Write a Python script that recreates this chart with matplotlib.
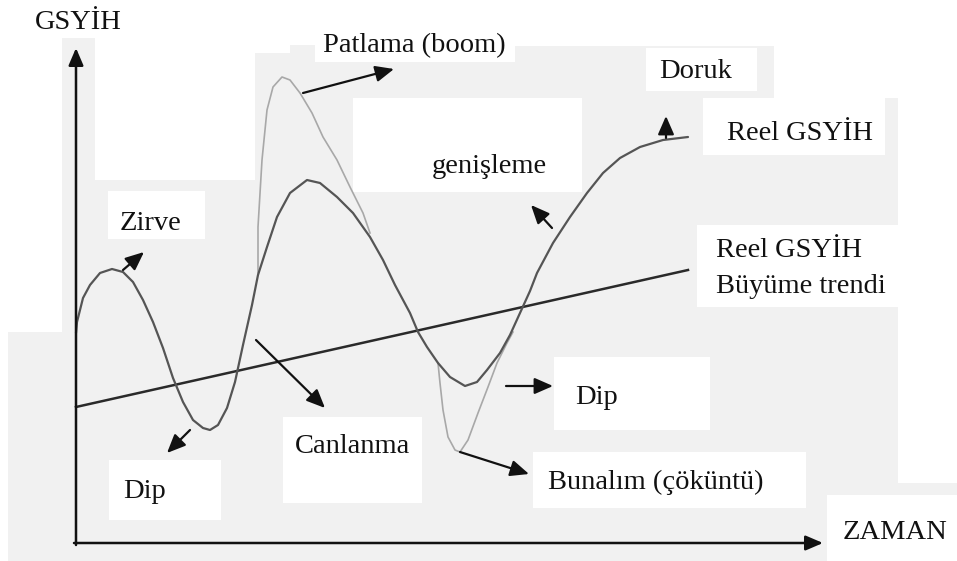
import matplotlib
matplotlib.use("Agg")
import matplotlib.pyplot as plt
from matplotlib.patches import Rectangle

reel_x = [76, 77, 83, 90, 100, 112, 123, 133, 143, 153, 163, 173, 183, 193,
          203, 210, 218, 227, 235, 243, 252, 258, 267, 277, 290, 307, 320, 337,
          353, 370, 383, 395, 410, 418, 427, 438, 450, 465, 477, 487, 500, 510,
          520, 530, 537, 553, 570, 587, 603, 620, 640, 663, 688]
reel_y = [333, 322, 298, 285, 273, 269, 272, 282, 300, 322, 348, 378, 402, 420,
          428, 430, 425, 408, 382, 345, 305, 275, 247, 217, 193, 180, 183, 197,
          213, 237, 260, 285, 313, 332, 347, 363, 377, 386, 382, 370, 353, 335,
          313, 291, 273, 243, 217, 193, 173, 158, 147, 140, 137]

# boom branch (light curve)
boom_x = [258, 258, 262, 267, 273, 282, 290, 300, 312, 323, 337, 350, 363, 370]
boom_y = [273, 227, 160, 110, 87, 77, 80, 93, 113, 137, 160, 187, 213, 233]

# bust branch (light curve)
bust_x = [438, 440, 443, 448, 455, 460, 468, 478, 488, 497, 507, 513]
bust_y = [363, 383, 410, 437, 450, 452, 440, 413, 387, 363, 343, 332]

# trend line end points
trend_x = [76, 688]
trend_y = [407, 270]

# background layout
gray_rects = [(62, 38, 95, 180), (62, 180, 898, 561), (8, 332, 62, 561),
              (255, 53, 774, 180), (290, 45, 315, 53), (515, 46, 774, 53),
              (774, 98, 898, 180), (898, 483, 957, 497)]
white_rects = [(315, 0, 515, 62), (646, 48, 757, 91), (353, 98, 582, 192),
               (703, 98, 885, 155), (108, 191, 205, 239), (697, 225, 957, 307),
               (109, 460, 221, 520), (283, 417, 422, 503), (554, 357, 710, 430),
               (533, 452, 806, 508), (827, 495, 957, 561)]

labels = [("GSYİH", 35, 29), ("Patlama (boom)", 323, 52), ("Doruk", 659, 78),
          ("Reel GSYİH", 727, 140), ("genişleme", 432, 173), ("Zirve", 120, 230),
          ("Reel GSYİH", 716, 257), ("Büyüme trendi", 716, 293),
          ("Dip", 123, 498), ("Canlanma", 295, 453), ("Dip", 575, 404),
          ("Bunalım (çöküntü)", 548, 489), ("ZAMAN", 843, 539)]

# (from, to) for the little pointer arrows
arrows = [((123, 270), (144, 252)), ((303, 93), (394, 69)),
          ((666, 138), (666, 116)), ((552, 228), (531, 205)),
          ((190, 430), (167, 453)), ((256, 340), (325, 408)),
          ((506, 386), (553, 386)), ((460, 452), (529, 474))]

fig = plt.figure(figsize=(9.57, 5.61), dpi=100)
ax = fig.add_axes([0, 0, 1, 1])
ax.set_xlim(0, 957)
ax.set_ylim(561, 0)
ax.axis("off")

for x0, y0, x1, y1 in gray_rects:
    ax.add_patch(Rectangle((x0, y0), x1 - x0, y1 - y0, fc="#f1f1f1", ec="none", zorder=0))
for x0, y0, x1, y1 in white_rects:
    ax.add_patch(Rectangle((x0, y0), x1 - x0, y1 - y0, fc="white", ec="none", zorder=1))

# axes with arrow heads
ax.annotate("", xy=(76, 48), xytext=(76, 545),
            arrowprops=dict(arrowstyle="-|>,head_length=0.7,head_width=0.3",
                            color="#111111", lw=1.8, shrinkA=0, shrinkB=0, mutation_scale=15),
            zorder=4)
ax.annotate("", xy=(823, 543), xytext=(74, 543),
            arrowprops=dict(arrowstyle="-|>,head_length=0.7,head_width=0.3",
                            color="#111111", lw=1.8, shrinkA=0, shrinkB=0, mutation_scale=15),
            zorder=4)

ax.plot(trend_x, trend_y, color="#2a2a2a", lw=1.8, zorder=3)
ax.plot(boom_x, boom_y, color="#a8a8a8", lw=1.2, zorder=2, solid_joinstyle="round")
ax.plot(bust_x, bust_y, color="#a8a8a8", lw=1.2, zorder=2, solid_joinstyle="round")
ax.plot(reel_x, reel_y, color="#555555", lw=1.6, zorder=3,
        solid_joinstyle="round", solid_capstyle="round")

for (x0, y0), (x1, y1) in arrows:
    ax.annotate("", xy=(x1, y1), xytext=(x0, y0),
                arrowprops=dict(arrowstyle="-|>,head_length=0.8,head_width=0.35",
                                color="#111111", lw=1.6, shrinkA=0, shrinkB=0, mutation_scale=14),
                zorder=4)

for txt, x, y in labels:
    ax.text(x, y, txt, fontsize=20.5, family="Liberation Serif", color="#111111",
            ha="left", va="baseline", zorder=5)

fig.savefig("out.png", dpi=100)
